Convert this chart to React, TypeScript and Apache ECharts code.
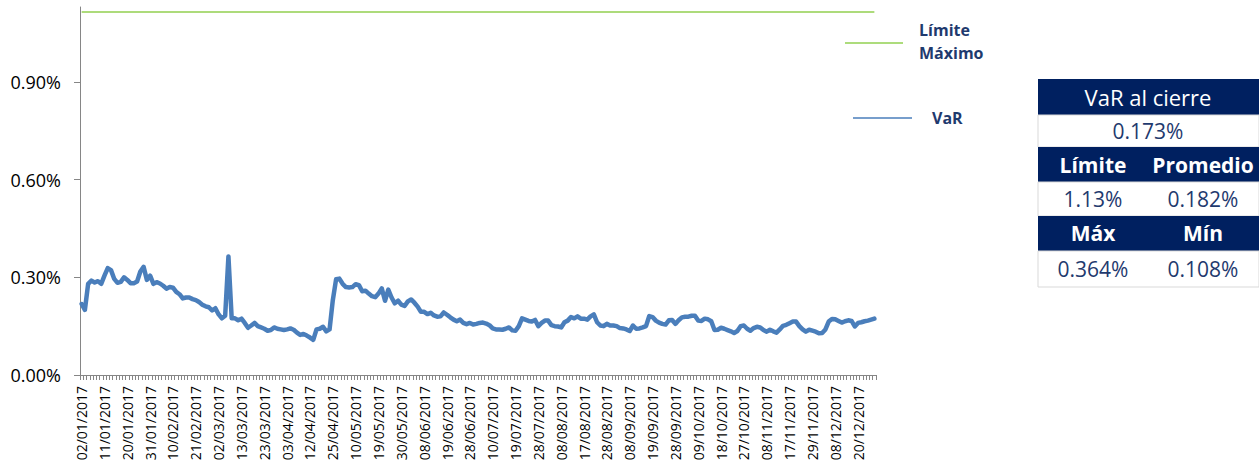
import React, { useEffect, useRef } from "react";
import * as echarts from "echarts";

// x-axis tick labels (one every 7 business days)
const tickLabels = [
  "02/01/2017", "11/01/2017", "20/01/2017", "31/01/2017", "10/02/2017", "21/02/2017",
  "02/03/2017", "13/03/2017", "23/03/2017", "03/04/2017", "12/04/2017", "25/04/2017",
  "10/05/2017", "19/05/2017", "30/05/2017", "08/06/2017", "19/06/2017", "28/06/2017",
  "10/07/2017", "19/07/2017", "28/07/2017", "08/08/2017", "17/08/2017", "28/08/2017",
  "08/09/2017", "19/09/2017", "28/09/2017", "09/10/2017", "18/10/2017", "27/10/2017",
  "08/11/2017", "17/11/2017", "29/11/2017", "08/12/2017", "20/12/2017",
];

// Daily VaR (%)
const varValues = [
  0.218, 0.200, 0.280, 0.290, 0.284, 0.288, 0.280, 0.305, 0.328, 0.322,
  0.295, 0.283, 0.286, 0.300, 0.292, 0.282, 0.282, 0.287, 0.318, 0.332,
  0.292, 0.305, 0.280, 0.285, 0.281, 0.274, 0.265, 0.270, 0.268, 0.255,
  0.248, 0.235, 0.238, 0.238, 0.233, 0.230, 0.224, 0.216, 0.211, 0.208,
  0.198, 0.205, 0.186, 0.174, 0.182, 0.364, 0.174, 0.174, 0.168, 0.173,
  0.160, 0.145, 0.152, 0.160, 0.150, 0.146, 0.142, 0.136, 0.138, 0.146,
  0.142, 0.140, 0.138, 0.140, 0.143, 0.139, 0.130, 0.123, 0.126, 0.121,
  0.115, 0.108, 0.140, 0.142, 0.148, 0.134, 0.140, 0.230, 0.294, 0.296,
  0.280, 0.270, 0.269, 0.270, 0.279, 0.276, 0.257, 0.259, 0.250, 0.242,
  0.239, 0.250, 0.266, 0.228, 0.262, 0.238, 0.220, 0.228, 0.216, 0.212,
  0.226, 0.232, 0.222, 0.210, 0.194, 0.194, 0.187, 0.191, 0.183, 0.179,
  0.180, 0.192, 0.185, 0.177, 0.170, 0.165, 0.170, 0.160, 0.156, 0.160,
  0.155, 0.157, 0.160, 0.161, 0.158, 0.153, 0.143, 0.140, 0.140, 0.139,
  0.142, 0.146, 0.137, 0.136, 0.150, 0.174, 0.170, 0.166, 0.164, 0.169,
  0.150, 0.160, 0.167, 0.167, 0.153, 0.150, 0.149, 0.146, 0.162, 0.167,
  0.178, 0.174, 0.180, 0.173, 0.173, 0.170, 0.180, 0.186, 0.162, 0.152,
  0.150, 0.157, 0.152, 0.152, 0.150, 0.144, 0.143, 0.140, 0.135, 0.152,
  0.142, 0.143, 0.146, 0.150, 0.181, 0.178, 0.167, 0.161, 0.157, 0.155,
  0.168, 0.169, 0.157, 0.168, 0.177, 0.179, 0.179, 0.182, 0.182, 0.167,
  0.166, 0.173, 0.171, 0.165, 0.138, 0.139, 0.145, 0.142, 0.138, 0.134,
  0.129, 0.135, 0.150, 0.152, 0.142, 0.136, 0.144, 0.148, 0.146, 0.138,
  0.133, 0.139, 0.134, 0.130, 0.140, 0.151, 0.154, 0.159, 0.164, 0.164,
  0.150, 0.140, 0.133, 0.139, 0.136, 0.133, 0.128, 0.129, 0.140, 0.164,
  0.172, 0.171, 0.166, 0.161, 0.165, 0.168, 0.166, 0.149, 0.160, 0.162,
  0.165, 0.167, 0.170, 0.173,
];

// Maximum limit line (%)
const limitValue = 1.115;

// y-axis ticks (%)
const yTickValues = [0, 0.3, 0.6, 0.9];

// Series names
const seriesNames = ["Límite\nMáximo", "VaR"];

// Summary table
const summaryTitle = "VaR al cierre";
const closingVaR = "0.173%";
const headersRow1 = ["Límite", "Promedio"];
const valuesRow1 = ["1.13%", "0.182%"];
const headersRow2 = ["Máx", "Mín"];
const valuesRow2 = ["0.364%", "0.108%"];

const FONT = "'Open Sans', 'DejaVu Sans', sans-serif";
const NAVY = "#002060";
const TEXT_NAVY = "#1F3A6E";
const GREEN = "#92D050";
const BLUE = "#4A7EBB";

export default function App() {
  const ref = useRef<HTMLDivElement>(null);

  useEffect(() => {
    if (!ref.current) return;
    const chart = echarts.init(ref.current, undefined, { renderer: "svg" });

    const categories = varValues.map((_, i) =>
      i % 7 === 0 && tickLabels[i / 7] !== undefined ? tickLabels[i / 7] : "·" + i
    );

    const tableX = 1038;
    const tableW = 221;
    const col1 = 1093;
    const col2 = 1203;
    const rows = [
      { y: 79, h: 36, dark: true },
      { y: 115, h: 32, dark: false },
      { y: 147, h: 35, dark: true },
      { y: 182, h: 34, dark: false },
      { y: 216, h: 35, dark: true },
      { y: 251, h: 36, dark: false },
    ];
    const rowRects = rows.map((r) => ({
      type: "rect",
      shape: { x: tableX, y: r.y, width: tableW, height: r.h },
      style: r.dark
        ? { fill: NAVY }
        : { fill: "#ffffff", stroke: "#d9d9d9", lineWidth: 1 },
    }));
    const cellText = (text: string, x: number, y: number, dark: boolean, bold: boolean, size = 21) => ({
      type: "text",
      x,
      y,
      style: {
        text,
        fill: dark ? "#ffffff" : TEXT_NAVY,
        font: `${bold ? "bold " : ""}${size}px ${FONT}`,
        align: "center",
        verticalAlign: "middle",
      },
    });

    chart.setOption({
      animation: false,
      grid: { left: 80, right: 383, top: 7, bottom: 90, containLabel: false, outerBoundsMode: "none" },
      xAxis: {
        type: "category",
        data: categories,
        boundaryGap: true,
        axisLine: { show: true, lineStyle: { color: "#868686", width: 1 } },
        axisTick: { show: true, interval: 0, length: 5, lineStyle: { color: "#868686" } },
        axisLabel: {
          interval: 6,
          rotate: 90,
          margin: 11,
          color: "#000000",
          fontFamily: FONT,
          fontSize: 14,
        },
        splitLine: { show: false },
      },
      yAxis: {
        type: "value",
        min: 0,
        max: 1.13,
        interval: 0.3,
        axisLine: { show: true, lineStyle: { color: "#868686", width: 1 } },
        axisTick: { show: true, length: 6, customValues: yTickValues, lineStyle: { color: "#868686" } },
        axisLabel: {
          customValues: yTickValues,
          margin: 19,
          color: "#000000",
          fontFamily: FONT,
          fontSize: 18,
          formatter: (v: number) => v.toFixed(2) + "%",
        },
        splitLine: { show: false },
      },
      series: [
        {
          name: seriesNames[0],
          type: "line",
          data: varValues.map(() => limitValue),
          showSymbol: false,
          lineStyle: { color: GREEN, width: 1.5 },
          itemStyle: { color: GREEN },
        },
        {
          name: seriesNames[1],
          type: "line",
          data: varValues,
          showSymbol: false,
          lineStyle: { color: BLUE, width: 4.5, cap: "round", join: "round" },
          itemStyle: { color: BLUE },
        },
      ],
      graphic: [
        // legend
        { type: "line", shape: { x1: 845, y1: 43, x2: 903, y2: 43 }, style: { stroke: GREEN, lineWidth: 1.5 } },
        {
          type: "text",
          x: 919,
          y: 18,
          style: {
            text: seriesNames[0],
            fill: TEXT_NAVY,
            font: `bold 16px ${FONT}`,
            lineHeight: 23,
            align: "left",
            verticalAlign: "top",
          },
        },
        { type: "line", shape: { x1: 853, y1: 118, x2: 912, y2: 118 }, style: { stroke: BLUE, lineWidth: 1.5 } },
        {
          type: "text",
          x: 932,
          y: 118,
          style: {
            text: seriesNames[1],
            fill: TEXT_NAVY,
            font: `bold 16px ${FONT}`,
            align: "left",
            verticalAlign: "middle",
          },
        },
        // table
        ...rowRects,
        cellText(summaryTitle, 1148, 97, true, false, 22),
        cellText(closingVaR, 1148, 131, false, false),
        cellText(headersRow1[0], col1, 165, true, true),
        cellText(headersRow1[1], col2, 165, true, true),
        cellText(valuesRow1[0], col1, 199, false, false),
        cellText(valuesRow1[1], col2, 199, false, false),
        cellText(headersRow2[0], col1, 233, true, true),
        cellText(headersRow2[1], col2, 233, true, true),
        cellText(valuesRow2[0], col1, 269, false, false),
        cellText(valuesRow2[1], col2, 269, false, false),
      ],
    });

    return () => chart.dispose();
  }, []);

  return (
    <div
      ref={ref}
      style={{ position: "absolute", left: 0, top: 0, width: 1259, height: 465, background: "#ffffff" }}
    />
  );
}
